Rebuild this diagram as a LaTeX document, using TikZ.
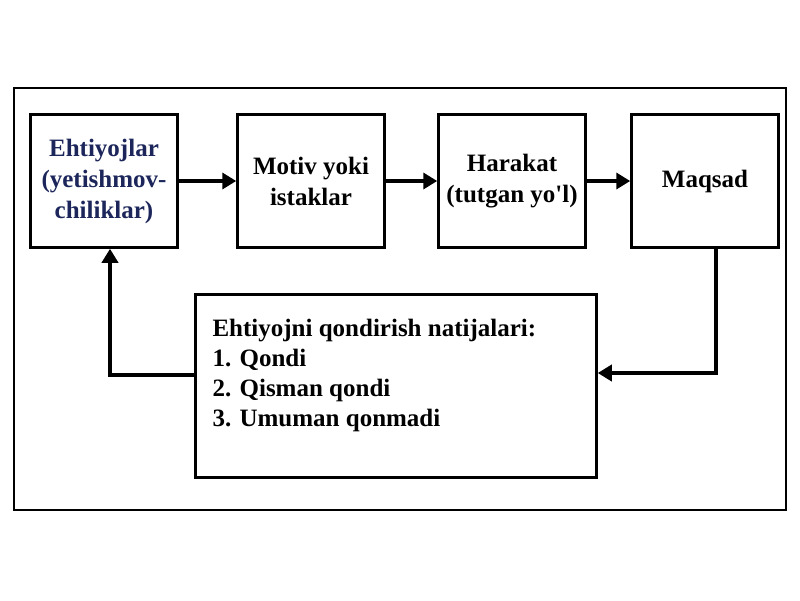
\documentclass[tikz,border=0pt]{standalone}
\usepackage{fontspec}
\setmainfont{Liberation Serif}
\usetikzlibrary{positioning,arrows.meta}
\definecolor{navy}{RGB}{28,38,90}
\tikzset{
  blok/.style={draw, line width=2.5pt, minimum width=147pt, minimum height=133pt, align=center, inner sep=1pt, font=\bfseries\fontsize{25}{31}\selectfont},
  strelka/.style={line width=3.5pt, -{Triangle[length=14pt,width=16pt]}}
}
\begin{document}
\begin{tikzpicture}[x=1pt,y=-1pt]
    \useasboundingbox (0,0) rectangle (800,600);
    \draw[line width=2.5pt] (14,88) rectangle (786,510);

    \node[blok, text=navy] (ehtiyoj) at (104,181) {Ehtiyojlar\\(yetishmov-\\chiliklar)};
    \node[blok] (motiv) at (311,181) {Motiv yoki\\istaklar};
    \node[blok] (harakat) at (512,181) {Harakat\\(tutgan yo\textquotesingle l)};
    \node[blok] (maqsad) at (705,181) {Maqsad};
    \node[draw, line width=2.5pt, minimum width=401pt, minimum height=183pt] (natija) at (396,386) {};
    \node[anchor=north west, align=left, font=\bfseries\fontsize{25}{30}\selectfont] (matn) at (209,316)
        {Ehtiyojni qondirish natijalari:\\1. Qondi\\2. Qisman qondi\\3. Umuman qonmadi};

    \draw[strelka] (ehtiyoj) -- (motiv);
    \draw[strelka] (motiv) -- (harakat);
    \draw[strelka] (harakat) -- (maqsad);
    \draw[strelka] (maqsad.south) ++(11,0) |- (natija.east |- 0,373);
    \draw[strelka] (natija.west |- 0,375) -| ([xshift=6pt]ehtiyoj.south);
\end{tikzpicture}
\end{document}
